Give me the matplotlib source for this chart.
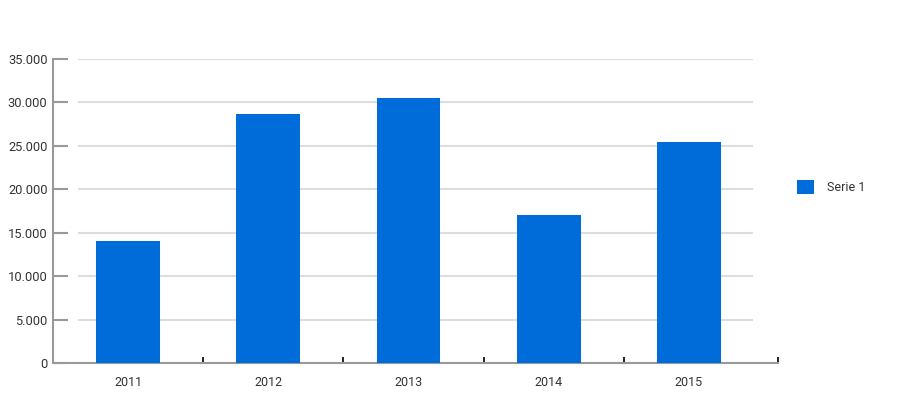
import matplotlib.pyplot as plt
from matplotlib.ticker import FuncFormatter

years = ["2011", "2012", "2013", "2014", "2015"]
values = [14000, 28700, 30500, 17000, 25500]
series_name = "Serie 1"
y_ticks = [0, 5000, 10000, 15000, 20000, 25000, 30000, 35000]

bar_color = "#006cd9"
axis_color = "#999999"
grid_color = "#dddddd"
text_color = "#333333"

plt.rcParams["font.family"] = ["Roboto", "DejaVu Sans"]

fig = plt.figure(figsize=(9, 4), dpi=100)
ax = fig.add_axes([53 / 900, 37 / 400, 725 / 900, 304 / 400])

x = list(range(len(years)))
bars = ax.bar(x, values, width=0.456, color=bar_color, zorder=3, label=series_name)

ax.set_xlim(-0.535, 4.635)
ax.set_ylim(0, 35000)

# gridlines stop short of both axes, like the original
ax.hlines(y_ticks[1:], -0.357, 4.456, color=grid_color, lw=1.5, zorder=1)

for side in ("top", "right"):
    ax.spines[side].set_visible(False)
for side in ("left", "bottom"):
    ax.spines[side].set_color(axis_color)
    ax.spines[side].set_linewidth(1.5)

ax.set_yticks(y_ticks)
ax.yaxis.set_major_formatter(
    FuncFormatter(lambda v, _: f"{int(v):,}".replace(",", "."))
)
ax.tick_params(axis="y", direction="in", length=10.5, width=1.5,
               color=axis_color, pad=4, labelsize=9.3, labelcolor=text_color)

# category labels under the bars, separator ticks between them
ax.set_xticks(x)
ax.set_xticklabels(years)
ax.tick_params(axis="x", length=0, pad=9, labelsize=9, labelcolor=text_color)
ax.set_xticks([i + 0.535 for i in x[:-1]] + [4.635], minor=True)
ax.tick_params(axis="x", which="minor", direction="in", length=4.5,
               width=1.3, color="#111111")

leg = fig.legend(handles=[bars], labels=[series_name], loc="center left",
                 bbox_to_anchor=(786 / 900, 1 - 187 / 400), frameon=False,
                 fontsize=9, handlelength=1.3, handleheight=1.3,
                 handletextpad=1.1)
for t in leg.get_texts():
    t.set_color(text_color)

fig.savefig("out.png", dpi=100)
